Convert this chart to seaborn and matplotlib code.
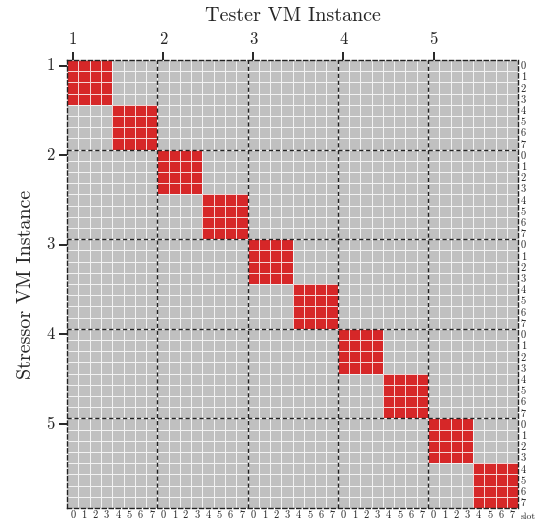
import matplotlib
matplotlib.use("Agg")
import matplotlib.pyplot as plt
import numpy as np
import seaborn as sns
from matplotlib.colors import ListedColormap

instances = ["1", "2", "3", "4", "5"]
slots = ["0", "1", "2", "3", "4", "5", "6", "7"]
# slots sharing a core group on the same VM instance interfere
core_groups = [[0, 1, 2, 3], [4, 5, 6, 7]]

n = len(instances) * len(slots)
matrix = np.zeros((n, n))
for i in range(len(instances)):
    for group in core_groups:
        idx = [i * len(slots) + s for s in group]
        matrix[np.ix_(idx, idx)] = 1

sns.set_theme(style="white")
plt.rcParams["font.family"] = ["cmr10", "DejaVu Serif"]
plt.rcParams["axes.formatter.use_mathtext"] = True

fig, ax = plt.subplots(figsize=(5.46, 5.21), dpi=100)
fig.subplots_adjust(left=0.123, right=0.949, top=0.885, bottom=0.025)

sns.heatmap(matrix, cmap=ListedColormap(["#c0c0c0", "#d62728"]), vmin=0, vmax=1,
            linewidths=0.6, linecolor=(1, 1, 1, 0.8), cbar=False, square=False, ax=ax)

for b in range(len(slots), n, len(slots)):
    ax.axhline(b, color="#222222", lw=1.0, ls=(0, (3, 2)))
    ax.axvline(b, color="#222222", lw=1.0, ls=(0, (3, 2)))
for sp in ax.spines.values():
    sp.set_visible(True)
    sp.set_linestyle((0, (3, 2)))
    sp.set_color("#222222")
    sp.set_linewidth(1.0)

major = [i * len(slots) + 0.5 for i in range(len(instances))]
minor = np.arange(n) + 0.5
slot_labels = slots * len(instances)

ax.set_xticks(major, instances)
ax.set_yticks(major, instances, rotation=0)
ax.set_xticks(minor, slot_labels, minor=True)
ax.set_yticks(minor, slot_labels, minor=True)
ax.xaxis.remove_overlapping_locs = False
ax.yaxis.remove_overlapping_locs = False

ax.tick_params(which="major", top=True, labeltop=True, bottom=False, labelbottom=False,
               left=True, labelleft=True, right=False, labelright=False,
               length=6, width=1.2, color="black", labelsize=12, pad=3)
ax.tick_params(which="minor", top=False, labeltop=False, bottom=False, labelbottom=True,
               left=False, labelleft=False, right=False, labelright=True,
               length=0, labelsize=7.5, pad=2)

ax.xaxis.set_label_position("top")
ax.set_xlabel("Tester VM Instance", fontsize=14.5, labelpad=8)
ax.set_ylabel("Stressor VM Instance", fontsize=14.5, labelpad=8)
ax.text(1.006, -0.01, "slot", transform=ax.transAxes, fontsize=7, va="top", ha="left")

fig.savefig("out.png", dpi=100)
